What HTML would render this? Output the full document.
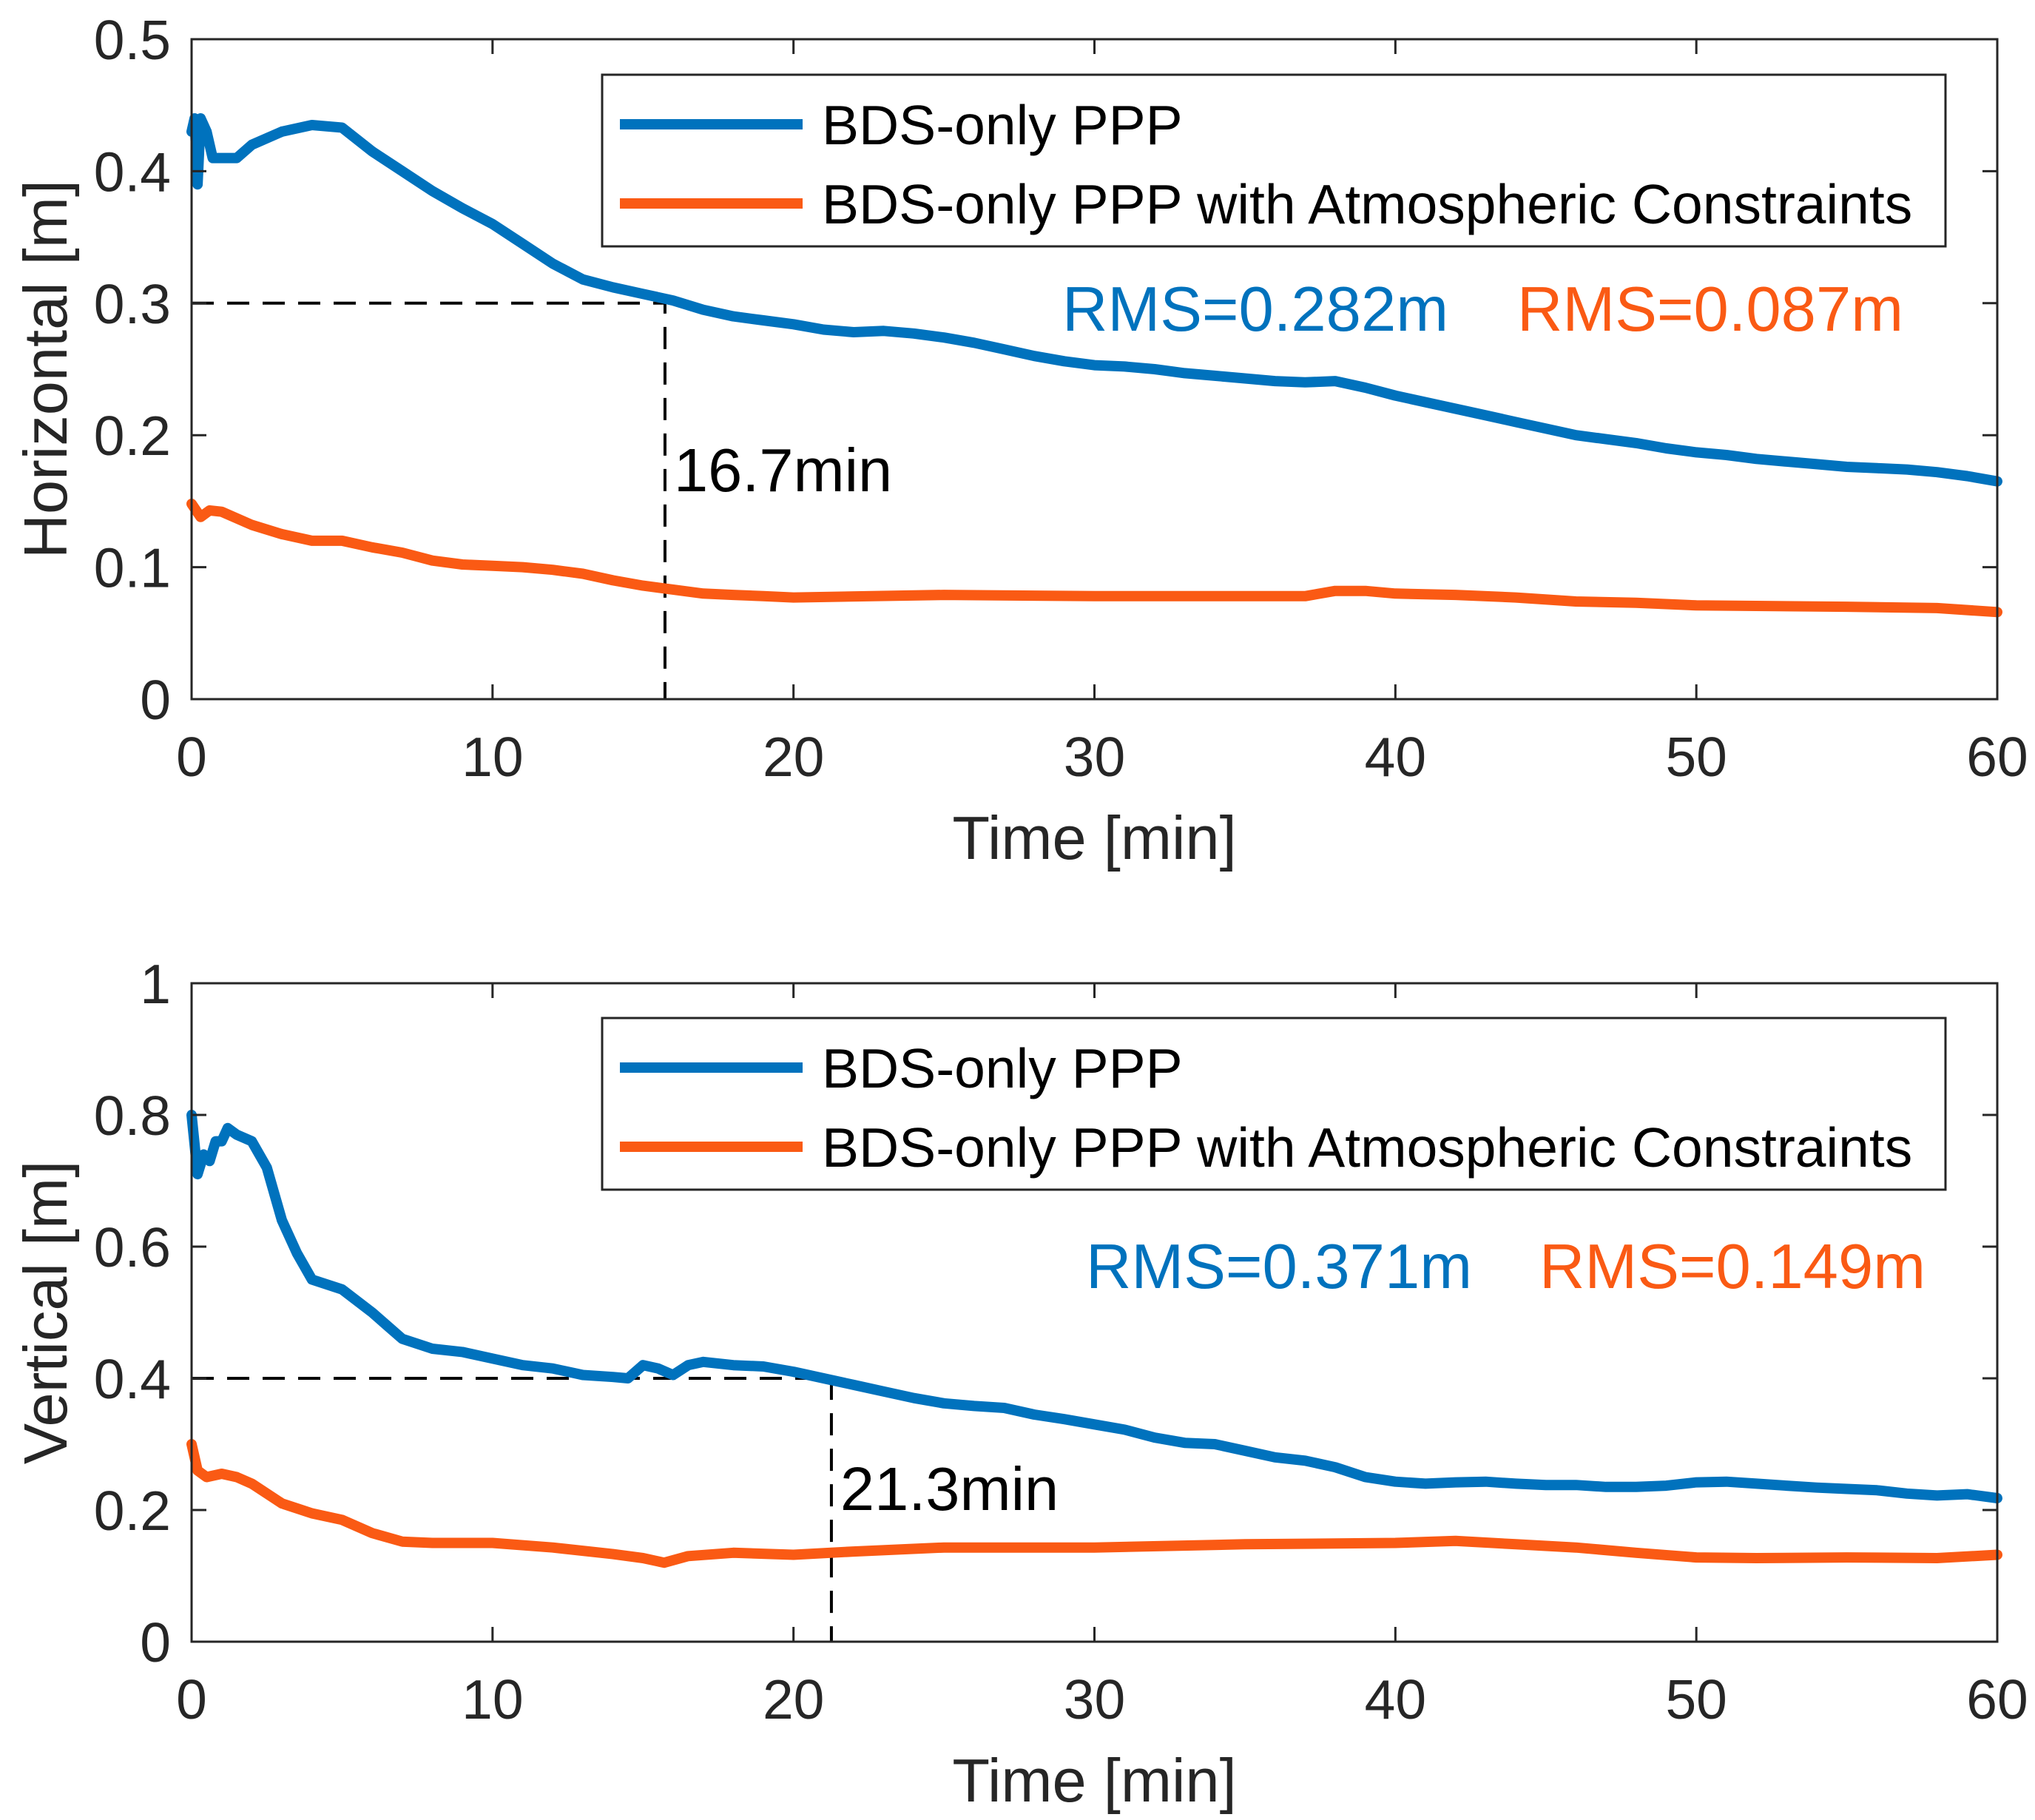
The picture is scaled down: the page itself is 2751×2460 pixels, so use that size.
<!DOCTYPE html>
<html><head><meta charset="utf-8">
<style>
html,body{margin:0;padding:0;background:#fff;}
svg{display:block;font-family:"Liberation Sans",Arial,sans-serif;}
</style></head>
<body>
<svg id="chart" width="2751" height="2460" viewBox="0 0 2751 2460" xmlns="http://www.w3.org/2000/svg"></svg>
<script>
// ---- data ----
const xTicks = [0,10,20,30,40,50,60];
const topYTicks = [0,0.1,0.2,0.3,0.4,0.5];
const botYTicks = [0,0.2,0.4,0.6,0.8,1];
const topBlueT = [0,0.1,0.2,0.3,0.5,0.7,1,1.5,2,3,4,5,6,7,8,9,10,11,12,13,14,15,16,17,18,19,20,21,22,23,24,25,26,27,28,29,30,31,32,33,34,35,36,37,38,39,40,41,42,43,44,45,46,47,48,49,50,51,52,53,54,55,56,57,58,59,60];
const topBlueV = [0.43,0.44,0.39,0.44,0.43,0.41,0.41,0.41,0.42,0.43,0.435,0.433,0.415,0.40,0.385,0.372,0.36,0.345,0.33,0.318,0.312,0.307,0.302,0.295,0.29,0.287,0.284,0.28,0.278,0.279,0.277,0.274,0.27,0.265,0.26,0.256,0.253,0.252,0.25,0.247,0.245,0.243,0.241,0.24,0.241,0.236,0.23,0.225,0.22,0.215,0.21,0.205,0.2,0.197,0.194,0.19,0.187,0.185,0.182,0.18,0.178,0.176,0.175,0.174,0.172,0.169,0.165];
const topOrT = [0,0.3,0.6,1,2,3,4,5,6,7,8,9,10,11,12,13,14,15,16,17,18,19,20,25,30,37,38,39,40,42,44,46,48,50,55,58,60];
const topOrV = [0.148,0.138,0.143,0.142,0.132,0.125,0.12,0.12,0.115,0.111,0.105,0.102,0.101,0.1,0.098,0.095,0.09,0.086,0.083,0.08,0.079,0.078,0.077,0.079,0.078,0.078,0.082,0.082,0.08,0.079,0.077,0.074,0.073,0.071,0.07,0.069,0.066];
const botBlueT = [0,0.2,0.4,0.6,0.8,1,1.2,1.5,2,2.5,3,3.5,4,5,6,6.5,7,8,9,10,11,12,13,14,14.5,15,15.5,16,16.5,17,18,19,20,21,22,23,24,25,26,27,28,29,30,31,32,33,34,35,36,37,38,39,40,41,42,43,44,45,46,47,48,49,50,51,52,53,54,55,56,57,58,59,60];
const botBlueV = [0.8,0.71,0.74,0.73,0.76,0.76,0.78,0.77,0.76,0.72,0.64,0.59,0.55,0.535,0.5,0.48,0.46,0.445,0.44,0.43,0.42,0.415,0.405,0.402,0.4,0.42,0.415,0.405,0.42,0.425,0.42,0.418,0.41,0.4,0.39,0.38,0.37,0.362,0.358,0.355,0.345,0.338,0.33,0.322,0.31,0.302,0.3,0.29,0.28,0.275,0.265,0.25,0.243,0.24,0.242,0.243,0.24,0.238,0.238,0.235,0.235,0.237,0.242,0.243,0.24,0.237,0.234,0.232,0.23,0.225,0.222,0.224,0.218];
const botOrT = [0,0.2,0.5,1,1.5,2,3,4,5,6,7,8,10,12,14,15,15.7,16.5,18,20,22,25,30,35,40,42,44,46,48,50,52,55,58,60];
const botOrV = [0.3,0.26,0.25,0.255,0.25,0.24,0.21,0.195,0.185,0.165,0.152,0.15,0.15,0.143,0.133,0.127,0.12,0.13,0.135,0.132,0.137,0.143,0.143,0.148,0.15,0.153,0.148,0.143,0.135,0.128,0.127,0.128,0.127,0.132];
const topConv = [15.73, 0.3];
const botConv = [21.26, 0.4];

const NS="http://www.w3.org/2000/svg";
const svg=document.getElementById('chart');
const X0=259,X1=2700;
function mk(tag,attrs,parent){const e=document.createElementNS(NS,tag);for(const k in attrs)e.setAttribute(k,attrs[k]);(parent||svg).appendChild(e);return e;}
function txt(s,attrs,parent){const e=mk('text',attrs,parent);e.textContent=s;return e;}

function panel(cfg){
  const g=mk('g',{});
  
  
  const sx=t=>X0+(t/60)*(X1-X0);
  const sy=v=>cfg.yB-(v/cfg.yMax)*(cfg.yB-cfg.yT);
  function line(T,V,color,name){
    let d='';T.forEach((t,i)=>{d+=(i?'L':'M')+sx(t).toFixed(1)+' '+sy(V[i]).toFixed(1);});
    const p=mk('path',{d:d,fill:'none',stroke:color,'stroke-width':14,'stroke-linejoin':'round','stroke-linecap':'round'},g);
    
    
  }
  const dg=mk('path',{d:`M${X0} ${sy(cfg.conv[1])}L${sx(cfg.conv[0])} ${sy(cfg.conv[1])}L${sx(cfg.conv[0])} ${cfg.yB}`,fill:'none',stroke:'#000','stroke-width':4,'stroke-dasharray':'30,18'},g);
  
  
  line(cfg.bT,cfg.bV,'#0072BD','bds-ppp-line');
  line(cfg.oT,cfg.oV,'#FA5A14','bds-ppp-atm-line');
  const box=mk('rect',{x:X0,y:cfg.yT,width:X1-X0,height:cfg.yB-cfg.yT,fill:'none',stroke:'#262626','stroke-width':3},g);
  
  
  xTicks.forEach(t=>{
    mk('path',{d:`M${sx(t)} ${cfg.yB}v-20M${sx(t)} ${cfg.yT}v20`,stroke:'#262626','stroke-width':3},g);
    const l=txt(String(t),{x:sx(t),y:cfg.yB+104,'font-size':75,'text-anchor':'middle',fill:'#262626'},g);
    
    
  });
  cfg.yTicks.forEach(v=>{
    mk('path',{d:`M${X0} ${sy(v)}h20M${X1} ${sy(v)}h-20`,stroke:'#262626','stroke-width':3},g);
    const l=txt(String(v),{x:X0-28,y:sy(v)+27,'font-size':75,'text-anchor':'end',fill:'#262626'},g);
    
    
  });
  const xt=txt('Time [min]',{x:(X0+X1)/2,y:cfg.yB+216,'font-size':83,'text-anchor':'middle',fill:'#262626'},g);
  
  
  const ym=(cfg.yT+cfg.yB)/2;
  const yt=txt(cfg.yLabel,{x:90,y:ym,'font-size':83,'text-anchor':'middle',fill:'#262626',transform:`rotate(-90 90 ${ym})`},g);
  
  
  const cl=txt(cfg.convLabel,{x:sx(cfg.conv[0])+12,y:cfg.convY,'font-size':83,fill:'#000'},g);
  
  
  const lg=mk('g',{},g);
  
  
  mk('rect',{x:814,y:cfg.legY,width:1816,height:232,fill:'#fff',stroke:'#262626','stroke-width':3},lg);
  [[ '#0072BD','BDS-only PPP',67],['#FA5A14','BDS-only PPP with Atmospheric Constraints',174]].forEach(([c,s,dy])=>{
    mk('path',{d:`M838 ${cfg.legY+dy}H1085`,stroke:c,'stroke-width':14},lg);
    const e=txt(s,{x:1111,y:cfg.legY+dy+27,'font-size':75,fill:'#000'},lg);
    
    
  });
  const r1=txt(cfg.rms[0],{x:cfg.rmsX[0],y:cfg.rmsY,'font-size':85,fill:'#0072BD'},g);
  
  
  const r2=txt(cfg.rms[1],{x:cfg.rmsX[1],y:cfg.rmsY,'font-size':85,fill:'#FA5A14'},g);
  
  
}
panel({name:'horizontal-panel',yT:53,yB:945,yMax:0.5,yTicks:topYTicks,yLabel:'Horizontal [m]',bT:topBlueT,bV:topBlueV,oT:topOrT,oV:topOrV,conv:topConv,convLabel:'16.7min',convY:664,legY:101,rms:['RMS=0.282m','RMS=0.087m'],rmsX:[1436,2051],rmsY:447});
panel({name:'vertical-panel',yT:1329,yB:2219,yMax:1,yTicks:botYTicks,yLabel:'Vertical [m]',bT:botBlueT,bV:botBlueV,oT:botOrT,oV:botOrV,conv:botConv,convLabel:'21.3min',convY:2041,legY:1376,rms:['RMS=0.371m','RMS=0.149m'],rmsX:[1468,2081],rmsY:1741});
</script>
</body></html>
